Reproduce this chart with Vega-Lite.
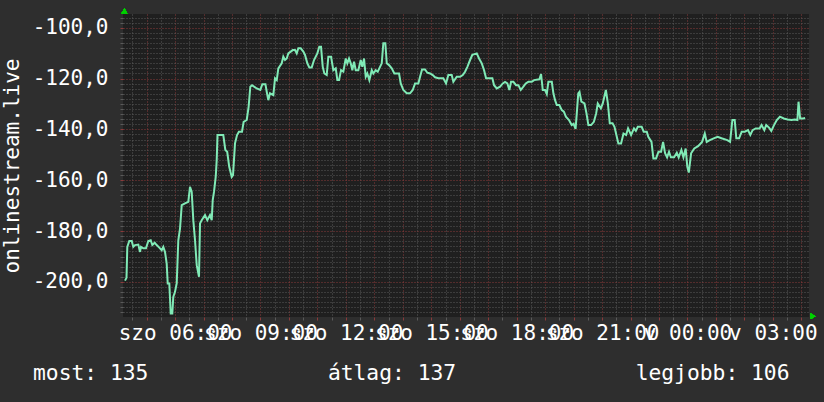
{
  "$schema": "https://vega.github.io/schema/vega-lite/v6.json",
  "width": 686,
  "height": 303,
  "autosize": {"type": "none"},
  "padding": {"left": 123, "top": 14, "right": 15, "bottom": 85},
  "background": "#2e2e2e",
  "config": {"view": {"fill": "#1f1f1f", "stroke": null}, "font": "DejaVu Sans Mono"},
  "title": {
    "text": "most: 135\u00a0\u00a0\u00a0\u00a0\u00a0\u00a0\u00a0\u00a0\u00a0\u00a0\u00a0\u00a0\u00a0\u00a0átlag: 137\u00a0\u00a0\u00a0\u00a0\u00a0\u00a0\u00a0\u00a0\u00a0\u00a0\u00a0\u00a0\u00a0\u00a0legjobb: 106",
    "orient": "bottom", "anchor": "start", "frame": "group", "dx": -90, "offset": 20,
    "font": "DejaVu Sans Mono", "fontSize": 21.3, "fontWeight": "normal", "color": "#ffffff"
  },
  "data": {"values": [
    {"hour": 4.240, "value": -199.5}, {"hour": 4.293, "value": -198.4}, {"hour": 4.321, "value": -186.2},
    {"hour": 4.391, "value": -183.9}, {"hour": 4.476, "value": -183.9}, {"hour": 4.532, "value": -186.2},
    {"hour": 4.592, "value": -185.5}, {"hour": 4.708, "value": -185.3}, {"hour": 4.767, "value": -188.2},
    {"hour": 4.802, "value": -186.2}, {"hour": 4.883, "value": -186.8}, {"hour": 4.978, "value": -186.8},
    {"hour": 5.059, "value": -183.9}, {"hour": 5.143, "value": -183.6}, {"hour": 5.200, "value": -185.5},
    {"hour": 5.284, "value": -184.6}, {"hour": 5.354, "value": -185.5}, {"hour": 5.445, "value": -186.5},
    {"hour": 5.530, "value": -187.5}, {"hour": 5.586, "value": -186.2}, {"hour": 5.646, "value": -188.2},
    {"hour": 5.705, "value": -192.8}, {"hour": 5.741, "value": -200.6}, {"hour": 5.797, "value": -200.6},
    {"hour": 5.846, "value": -212.4}, {"hour": 5.902, "value": -212.4}, {"hour": 5.937, "value": -205.9},
    {"hour": 5.997, "value": -203.9}, {"hour": 6.057, "value": -200.6}, {"hour": 6.113, "value": -183.6},
    {"hour": 6.173, "value": -179.0}, {"hour": 6.233, "value": -169.8}, {"hour": 6.348, "value": -169.1},
    {"hour": 6.464, "value": -168.5}, {"hour": 6.524, "value": -162.6}, {"hour": 6.584, "value": -164.6},
    {"hour": 6.640, "value": -175.7}, {"hour": 6.700, "value": -183.6}, {"hour": 6.760, "value": -193.4},
    {"hour": 6.840, "value": -198.0}, {"hour": 6.876, "value": -177.0}, {"hour": 6.935, "value": -175.7},
    {"hour": 7.051, "value": -173.7}, {"hour": 7.132, "value": -175.7}, {"hour": 7.227, "value": -173.7},
    {"hour": 7.287, "value": -175.7}, {"hour": 7.322, "value": -167.8}, {"hour": 7.367, "value": -164.6},
    {"hour": 7.427, "value": -158.7}, {"hour": 7.462, "value": -152.1}, {"hour": 7.490, "value": -142.2},
    {"hour": 7.694, "value": -142.2}, {"hour": 7.765, "value": -148.1}, {"hour": 7.831, "value": -148.8},
    {"hour": 7.902, "value": -154.7}, {"hour": 7.989, "value": -158.7}, {"hour": 8.035, "value": -158.0},
    {"hour": 8.105, "value": -145.5}, {"hour": 8.176, "value": -142.2}, {"hour": 8.242, "value": -140.9},
    {"hour": 8.351, "value": -140.9}, {"hour": 8.408, "value": -137.0}, {"hour": 8.517, "value": -136.3},
    {"hour": 8.583, "value": -131.1}, {"hour": 8.643, "value": -123.2}, {"hour": 8.703, "value": -122.6},
    {"hour": 8.868, "value": -123.9}, {"hour": 8.994, "value": -124.5}, {"hour": 9.065, "value": -122.2},
    {"hour": 9.174, "value": -122.2}, {"hour": 9.219, "value": -125.2}, {"hour": 9.275, "value": -128.5},
    {"hour": 9.335, "value": -125.8}, {"hour": 9.451, "value": -126.5}, {"hour": 9.511, "value": -119.9},
    {"hour": 9.571, "value": -120.6}, {"hour": 9.627, "value": -116.0}, {"hour": 9.746, "value": -114.0},
    {"hour": 9.802, "value": -111.4}, {"hour": 9.862, "value": -112.7}, {"hour": 9.922, "value": -112.1},
    {"hour": 9.978, "value": -110.1}, {"hour": 10.063, "value": -109.4}, {"hour": 10.133, "value": -108.8},
    {"hour": 10.214, "value": -108.8}, {"hour": 10.273, "value": -110.1}, {"hour": 10.330, "value": -108.1},
    {"hour": 10.414, "value": -108.1}, {"hour": 10.505, "value": -109.4}, {"hour": 10.565, "value": -110.7},
    {"hour": 10.646, "value": -114.0}, {"hour": 10.716, "value": -115.6}, {"hour": 10.800, "value": -115.6},
    {"hour": 10.881, "value": -112.7}, {"hour": 10.997, "value": -110.1}, {"hour": 11.067, "value": -107.5},
    {"hour": 11.127, "value": -107.5}, {"hour": 11.187, "value": -115.4}, {"hour": 11.243, "value": -118.0},
    {"hour": 11.327, "value": -118.6}, {"hour": 11.384, "value": -111.4}, {"hour": 11.479, "value": -111.4},
    {"hour": 11.559, "value": -116.7}, {"hour": 11.644, "value": -116.0}, {"hour": 11.700, "value": -120.6},
    {"hour": 11.760, "value": -120.6}, {"hour": 11.830, "value": -116.7}, {"hour": 11.911, "value": -117.3},
    {"hour": 11.995, "value": -112.1}, {"hour": 12.051, "value": -114.0}, {"hour": 12.111, "value": -112.1},
    {"hour": 12.171, "value": -114.0}, {"hour": 12.227, "value": -116.7}, {"hour": 12.287, "value": -113.4},
    {"hour": 12.347, "value": -116.7}, {"hour": 12.438, "value": -116.7}, {"hour": 12.522, "value": -112.7},
    {"hour": 12.578, "value": -115.4}, {"hour": 12.638, "value": -112.1}, {"hour": 12.698, "value": -119.3},
    {"hour": 12.754, "value": -118.0}, {"hour": 12.824, "value": -120.6}, {"hour": 12.909, "value": -116.7},
    {"hour": 12.965, "value": -118.0}, {"hour": 13.049, "value": -116.7}, {"hour": 13.119, "value": -117.3},
    {"hour": 13.200, "value": -115.4}, {"hour": 13.260, "value": -114.0}, {"hour": 13.316, "value": -106.1},
    {"hour": 13.386, "value": -106.1}, {"hour": 13.436, "value": -114.0}, {"hour": 13.516, "value": -114.7},
    {"hour": 13.611, "value": -116.0}, {"hour": 13.703, "value": -118.0}, {"hour": 13.868, "value": -118.0},
    {"hour": 13.927, "value": -121.9}, {"hour": 14.019, "value": -124.5}, {"hour": 14.138, "value": -125.8},
    {"hour": 14.254, "value": -125.8}, {"hour": 14.349, "value": -124.5}, {"hour": 14.430, "value": -121.9},
    {"hour": 14.546, "value": -121.9}, {"hour": 14.606, "value": -119.3}, {"hour": 14.676, "value": -116.4},
    {"hour": 14.781, "value": -116.4}, {"hour": 14.862, "value": -117.7}, {"hour": 14.957, "value": -118.0},
    {"hour": 15.052, "value": -118.6}, {"hour": 15.133, "value": -119.5}, {"hour": 15.249, "value": -119.9},
    {"hour": 15.424, "value": -119.9}, {"hour": 15.519, "value": -121.9}, {"hour": 15.600, "value": -118.6},
    {"hour": 15.719, "value": -118.6}, {"hour": 15.776, "value": -121.3}, {"hour": 15.895, "value": -119.3},
    {"hour": 16.011, "value": -119.3}, {"hour": 16.106, "value": -118.6}, {"hour": 16.187, "value": -117.3},
    {"hour": 16.268, "value": -115.4}, {"hour": 16.363, "value": -112.7}, {"hour": 16.443, "value": -110.7},
    {"hour": 16.598, "value": -110.1}, {"hour": 16.679, "value": -112.1}, {"hour": 16.774, "value": -114.0},
    {"hour": 16.855, "value": -116.7}, {"hour": 16.925, "value": -119.9}, {"hour": 17.146, "value": -119.9},
    {"hour": 17.206, "value": -122.6}, {"hour": 17.301, "value": -123.9}, {"hour": 17.417, "value": -123.2},
    {"hour": 17.512, "value": -121.9}, {"hour": 17.592, "value": -121.3}, {"hour": 17.673, "value": -121.9},
    {"hour": 17.743, "value": -124.5}, {"hour": 17.803, "value": -121.3}, {"hour": 17.884, "value": -121.3},
    {"hour": 17.979, "value": -122.6}, {"hour": 18.060, "value": -122.6}, {"hour": 18.144, "value": -124.5},
    {"hour": 18.235, "value": -123.2}, {"hour": 18.320, "value": -121.9}, {"hour": 18.411, "value": -121.3},
    {"hour": 18.531, "value": -121.3}, {"hour": 18.611, "value": -120.6}, {"hour": 18.798, "value": -120.3},
    {"hour": 18.857, "value": -118.2}, {"hour": 18.917, "value": -124.5}, {"hour": 18.998, "value": -124.5},
    {"hour": 19.058, "value": -126.1}, {"hour": 19.114, "value": -121.3}, {"hour": 19.234, "value": -121.3},
    {"hour": 19.290, "value": -125.8}, {"hour": 19.349, "value": -128.5}, {"hour": 19.409, "value": -130.4},
    {"hour": 19.500, "value": -130.4}, {"hour": 19.585, "value": -132.4}, {"hour": 19.658, "value": -133.0},
    {"hour": 19.729, "value": -135.0}, {"hour": 19.838, "value": -136.3}, {"hour": 19.933, "value": -138.3},
    {"hour": 19.999, "value": -137.8}, {"hour": 20.070, "value": -139.8}, {"hour": 20.112, "value": -133.7},
    {"hour": 20.164, "value": -125.8}, {"hour": 20.207, "value": -125.2}, {"hour": 20.273, "value": -129.1},
    {"hour": 20.382, "value": -129.8}, {"hour": 20.453, "value": -133.7}, {"hour": 20.519, "value": -138.3},
    {"hour": 20.614, "value": -138.3}, {"hour": 20.712, "value": -137.0}, {"hour": 20.793, "value": -133.7},
    {"hour": 20.849, "value": -129.8}, {"hour": 20.958, "value": -131.7}, {"hour": 21.025, "value": -129.8},
    {"hour": 21.134, "value": -124.5}, {"hour": 21.204, "value": -129.8}, {"hour": 21.271, "value": -137.6},
    {"hour": 21.369, "value": -137.6}, {"hour": 21.436, "value": -139.0}, {"hour": 21.573, "value": -145.5},
    {"hour": 21.668, "value": -145.5}, {"hour": 21.753, "value": -141.6}, {"hour": 21.844, "value": -142.2},
    {"hour": 21.914, "value": -139.6}, {"hour": 22.020, "value": -142.2}, {"hour": 22.122, "value": -139.6},
    {"hour": 22.188, "value": -140.6}, {"hour": 22.255, "value": -139.0}, {"hour": 22.392, "value": -139.0},
    {"hour": 22.462, "value": -140.9}, {"hour": 22.571, "value": -140.9}, {"hour": 22.624, "value": -142.9},
    {"hour": 22.737, "value": -144.9}, {"hour": 22.803, "value": -151.4}, {"hour": 22.898, "value": -151.4},
    {"hour": 22.983, "value": -148.8}, {"hour": 23.074, "value": -148.8}, {"hour": 23.144, "value": -144.9},
    {"hour": 23.214, "value": -149.4}, {"hour": 23.285, "value": -151.0}, {"hour": 23.352, "value": -148.8},
    {"hour": 23.418, "value": -151.0}, {"hour": 23.531, "value": -151.0}, {"hour": 23.626, "value": -149.2},
    {"hour": 23.692, "value": -151.0}, {"hour": 23.787, "value": -148.1}, {"hour": 23.858, "value": -151.0},
    {"hour": 23.938, "value": -147.5}, {"hour": 23.995, "value": -154.7}, {"hour": 24.047, "value": -157.0},
    {"hour": 24.128, "value": -149.4}, {"hour": 24.240, "value": -147.5}, {"hour": 24.374, "value": -146.6},
    {"hour": 24.514, "value": -144.9}, {"hour": 24.609, "value": -141.6}, {"hour": 24.676, "value": -144.9},
    {"hour": 24.785, "value": -144.2}, {"hour": 24.922, "value": -143.5}, {"hour": 25.059, "value": -142.9},
    {"hour": 25.196, "value": -143.5}, {"hour": 25.400, "value": -144.2}, {"hour": 25.498, "value": -144.9},
    {"hour": 25.579, "value": -136.3}, {"hour": 25.660, "value": -136.3}, {"hour": 25.716, "value": -143.5},
    {"hour": 25.814, "value": -143.5}, {"hour": 25.906, "value": -140.9}, {"hour": 26.015, "value": -140.9},
    {"hour": 26.127, "value": -140.3}, {"hour": 26.208, "value": -142.2}, {"hour": 26.289, "value": -140.3},
    {"hour": 26.398, "value": -139.6}, {"hour": 26.535, "value": -139.6}, {"hour": 26.605, "value": -138.3},
    {"hour": 26.700, "value": -140.3}, {"hour": 26.767, "value": -138.3}, {"hour": 26.865, "value": -139.3},
    {"hour": 26.946, "value": -140.6}, {"hour": 27.041, "value": -138.3}, {"hour": 27.139, "value": -136.3},
    {"hour": 27.248, "value": -135.0}, {"hour": 27.385, "value": -135.7}, {"hour": 27.519, "value": -136.1},
    {"hour": 27.656, "value": -136.3}, {"hour": 27.768, "value": -136.1}, {"hour": 27.863, "value": -136.3},
    {"hour": 27.902, "value": -129.1}, {"hour": 27.958, "value": -135.7}, {"hour": 28.067, "value": -135.7},
    {"hour": 28.134, "value": -135.5}
  ]},
  "layer": [
    {
      "mark": {"type": "line", "color": "#80eab6", "strokeWidth": 2, "interpolate": "linear"},
      "encoding": {
        "x": {"field": "hour", "type": "quantitative",
          "scale": {"domain": [4.17, 28.27], "nice": false, "zero": false},
          "axis": {"orient": "bottom", "values": [4.5,5.5,6.5,7.5,8.5,9.5,10.5,11.5,12.5,13.5,14.5,15.5,16.5,17.5,18.5,19.5,20.5,21.5,22.5,23.5,24.5,25.5,26.5,27.5],
            "grid": true, "gridColor": "#5a5a5a", "gridDash": [1, 2], "gridWidth": 1,
            "ticks": true, "tickColor": "#5a5a5a", "tickSize": 3, "labels": false, "domain": false, "title": null}},
        "y": {"field": "value", "type": "quantitative",
          "scale": {"domain": [-213.8, -94.6], "nice": false, "zero": false},
          "axis": {"orient": "left", "values": [-212,-210,-208,-206,-204,-202,-198,-196,-194,-192,-190,-188,-186,-184,-182,-178,-176,-174,-172,-170,-168,-166,-164,-162,-158,-156,-154,-152,-150,-148,-146,-144,-142,-138,-136,-134,-132,-130,-128,-126,-124,-122,-118,-116,-114,-112,-110,-108,-106,-104,-102,-98,-96],
            "grid": true, "gridColor": "#5a5a5a", "gridDash": [1, 2], "gridWidth": 1,
            "ticks": true, "tickColor": "#5a5a5a", "tickSize": 3, "labels": false, "domain": false, "title": null}}
      }
    },
    {
      "mark": {"type": "line", "strokeOpacity": 0},
      "encoding": {
        "x": {"field": "hour", "type": "quantitative",
          "scale": {"domain": [4.17, 28.27], "nice": false, "zero": false},
          "axis": {"orient": "bottom", "values": [5,6,7,8,9,10,11,12,13,14,15,16,17,18,19,20,21,22,23,24,25,26,27,28],
            "grid": true, "gridColor": "#8a3a3a", "gridDash": [1, 2], "gridWidth": 1,
            "ticks": true, "tickColor": "#8a3a3a", "tickSize": 3, "domain": false, "title": null,
            "labelExpr": "datum.value % 3 == 0 ? ((datum.value < 24 ? 'szo ' : 'v ') + (datum.value % 24 < 10 ? '0' : '') + (datum.value % 24) + ':00') : ''",
            "labelOverlap": false, "labelBound": false, "labelFlush": false,
            "labelFont": "DejaVu Sans Mono", "labelFontSize": 21, "labelColor": "#ffffff", "labelPadding": 2, "labelBaseline": "top"}},
        "y": {"field": "value", "type": "quantitative",
          "scale": {"domain": [-213.8, -94.6], "nice": false, "zero": false},
          "axis": {"orient": "left", "values": [-200, -180, -160, -140, -120, -100],
            "grid": true, "gridColor": "#8a3a3a", "gridDash": [1, 2], "gridWidth": 1,
            "ticks": true, "tickColor": "#8a3a3a", "tickSize": 3, "domain": false,
            "labelExpr": "datum.value + ',0'",
            "labelOverlap": false, "labelBound": false, "labelFlush": false,
            "labelFont": "DejaVu Sans Mono", "labelFontSize": 21, "labelColor": "#ffffff", "labelPadding": 12, "labelBaseline": "middle",
            "title": "onlinestream.live", "titleFont": "DejaVu Sans Mono", "titleFontSize": 21, "titleFontWeight": "normal",
            "titleColor": "#ffffff", "titleX": -105, "titleY": 151.5, "titleAngle": 270, "titleAlign": "center", "titleBaseline": "alphabetic"}}
      }
    },
    {
      "mark": {"type": "point", "shape": "triangle-up", "filled": true, "color": "#00d000", "opacity": 1, "size": 30},
      "encoding": {
        "x": {"datum": 4.22, "type": "quantitative", "scale": {"domain": [4.17, 28.27], "nice": false, "zero": false}, "axis": null},
        "y": {"datum": -93.4, "type": "quantitative", "scale": {"domain": [-213.8, -94.6], "nice": false, "zero": false}, "axis": null}
      }
    },
    {
      "mark": {"type": "point", "shape": "triangle-right", "filled": true, "color": "#00d000", "opacity": 1, "size": 30},
      "encoding": {
        "x": {"datum": 28.41, "type": "quantitative", "scale": {"domain": [4.17, 28.27], "nice": false, "zero": false}, "axis": null},
        "y": {"datum": -213.5, "type": "quantitative", "scale": {"domain": [-213.8, -94.6], "nice": false, "zero": false}, "axis": null}
      }
    }
  ],
  "resolve": {"axis": {"x": "independent", "y": "independent"}}
}
